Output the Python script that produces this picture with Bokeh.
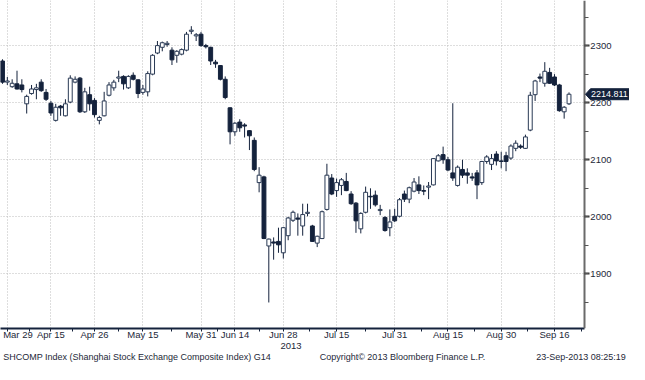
import pandas as pd
from bokeh.plotting import figure
from bokeh.models import (ColumnDataSource, FixedTicker, SingleIntervalTicker,
                          Range1d, Label, LinearAxis, PolyAnnotation, BoxAnnotation)
from bokeh.embed import file_html
from bokeh.resources import INLINE

# ---------------- data ----------------
start_date = "2013-03-28"
end_date = "2013-09-23"
holidays = ["2013-04-04", "2013-04-05", "2013-04-29", "2013-04-30", "2013-05-01",
            "2013-06-10", "2013-06-11", "2013-06-12", "2013-09-19", "2013-09-20"]

opens = [2273, 2236, 2228, 2233, 2231, 2198, 2216, 2223, 2236, 2218,
         2199, 2169, 2194, 2177, 2201, 2236, 2243, 2184, 2214, 2204,
         2169, 2177, 2213, 2226, 2243, 2246, 2226, 2248, 2240, 2218,
         2219, 2250, 2287, 2297, 2302, 2292, 2283, 2285, 2292, 2325,
         2317, 2320, 2300, 2297, 2271, 2265, 2241, 2191, 2149, 2166,
         2161, 2151, 2134, 2060, 2070, 1949, 1956, 1957, 1937, 1967,
         1994, 1998, 1984, 2006, 1984, 1954, 1962, 2013, 2068, 2046,
         2055, 2062, 2040, 2024, 1979, 2008, 2036, 2038, 2011, 1999,
         1981, 2001, 2001, 2040, 2031, 2045, 2056, 2046, 2052, 2056,
         2098, 2109, 2100, 2077, 2055, 2083, 2077, 2070, 2077, 2060,
         2097, 2092, 2110, 2098, 2107, 2103, 2120, 2124, 2120, 2152,
         2214, 2245, 2234, 2253, 2245, 2231, 2184, 2198]
highs = [2276, 2245, 2241, 2256, 2241, 2214, 2231, 2233, 2241, 2224,
         2203, 2198, 2196, 2206, 2248, 2246, 2245, 2226, 2228, 2208,
         2177, 2219, 2236, 2240, 2256, 2248, 2248, 2253, 2241, 2231,
         2255, 2285, 2308, 2307, 2308, 2297, 2292, 2295, 2324, 2334,
         2322, 2324, 2303, 2298, 2275, 2266, 2246, 2192, 2166, 2171,
         2164, 2152, 2139, 2087, 2072, 1962, 1964, 1981, 1982, 2000,
         2011, 2006, 2023, 2023, 1986, 1967, 2011, 2093, 2075, 2067,
         2068, 2077, 2045, 2026, 2008, 2053, 2050, 2046, 2021, 2001,
         2013, 2014, 2033, 2046, 2053, 2068, 2071, 2055, 2061, 2103,
         2110, 2123, 2105, 2199, 2090, 2100, 2085, 2077, 2082, 2098,
         2108, 2110, 2115, 2114, 2114, 2127, 2134, 2127, 2144, 2219,
         2240, 2251, 2271, 2261, 2250, 2233, 2194, 2218]
lows = [2233, 2231, 2226, 2223, 2218, 2181, 2214, 2206, 2219, 2203,
        2177, 2167, 2177, 2176, 2199, 2234, 2182, 2182, 2186, 2174,
        2162, 2176, 2211, 2221, 2236, 2223, 2224, 2239, 2208, 2214,
        2211, 2248, 2285, 2290, 2298, 2266, 2270, 2283, 2290, 2320,
        2308, 2298, 2295, 2266, 2261, 2239, 2206, 2127, 2142, 2149,
        2139, 2117, 2080, 2043, 1961, 1850, 1925, 1937, 1927, 1959,
        1991, 1967, 1967, 2001, 1956, 1947, 1961, 2011, 2038, 2035,
        2038, 2045, 2021, 1972, 1971, 2006, 2014, 2018, 2003, 1974,
        1966, 1991, 1999, 2026, 2024, 2043, 2040, 2038, 2031, 2055,
        2097, 2093, 2080, 2063, 2053, 2068, 2058, 2063, 2031, 2056,
        2093, 2082, 2090, 2085, 2080, 2100, 2115, 2119, 2119, 2150,
        2203, 2236, 2228, 2233, 2229, 2184, 2172, 2196]
closes = [2236, 2238, 2234, 2224, 2223, 2211, 2224, 2226, 2221, 2206,
          2182, 2192, 2191, 2198, 2243, 2241, 2184, 2219, 2198, 2179,
          2174, 2203, 2231, 2236, 2245, 2233, 2246, 2241, 2216, 2224,
          2251, 2283, 2300, 2305, 2304, 2275, 2290, 2293, 2320, 2327,
          2319, 2300, 2298, 2273, 2268, 2241, 2209, 2149, 2164, 2156,
          2159, 2142, 2083, 2073, 1962, 1961, 1954, 1951, 1981, 1998,
          2008, 1996, 2004, 2008, 1957, 1966, 2009, 2073, 2040, 2060,
          2065, 2046, 2023, 1993, 2006, 2043, 2035, 2021, 2013, 1976,
          1991, 1993, 2030, 2031, 2051, 2061, 2046, 2045, 2054, 2102,
          2107, 2100, 2082, 2068, 2087, 2073, 2073, 2068, 2056, 2097,
          2105, 2102, 2098, 2097, 2097, 2124, 2129, 2122, 2140, 2213,
          2238, 2243, 2255, 2234, 2231, 2186, 2192, 2214.811]

tick_dates = ["2013-03-29", "2013-04-15", "2013-04-26", "2013-05-15", "2013-05-31",
              "2013-06-14", "2013-06-28", "2013-07-15", "2013-07-31", "2013-08-15",
              "2013-08-30", "2013-09-16"]
tick_labels = ["Mar 29", "Apr 15", "Apr 26", "May 15", "May 31", "Jun 14", "Jun 28",
               "Jul 15", "Jul 31", "Aug 15", "Aug 30", "Sep 16"]
year_label = "2013"
last_price_text = "2214.811"
footer_texts = ["SHCOMP Index (Shanghai Stock Exchange Composite Index) G14",
                "Copyright\u00a9 2013 Bloomberg Finance L.P.",
                "23-Sep-2013 08:25:19"]

# ---------------- build ----------------
dates = pd.bdate_range(start_date, end_date)
dates = dates[~dates.isin(pd.to_datetime(holidays))]
pos = {d.strftime("%Y-%m-%d"): i for i, d in enumerate(dates)}
idx = list(range(len(opens)))

NAVY = "#14223c"
TEXT = "#1d2838"
FONT = "Liberation Sans"
FS = "9.5px"

up = [c >= o for o, c in zip(opens, closes)]
src = ColumnDataSource(dict(
    x=idx, h=highs, l=lows,
    top=[max(o, c) for o, c in zip(opens, closes)],
    bottom=[min(o, c) for o, c in zip(opens, closes)],
    fill=["#ffffff" if u else NAVY for u in up],
    line=["#2a3a55" if u else NAVY for u in up],
))

W, H = 629, 364
BB = 36
PW, FH = 584, H - BB          # price area width (px) and frame height
X0, XA = -0.41, 120.2         # data x at left edge and at the price axis
Y0, Y1 = 1804.4, 2379.0
XPX = (XA - X0) / PW          # data units per pixel
X1 = X0 + W * XPX             # frame covers the full width; axis sits at XA


def px_x(px):
    return X0 + px * XPX


def px_y(py):
    return Y1 - py * (Y1 - Y0) / FH


p = figure(width=W, height=H, x_range=Range1d(X0, X1), y_range=Range1d(Y0, Y1),
           y_axis_location="left", output_backend="svg", toolbar_location=None,
           min_border_left=0, min_border_top=0, min_border_right=0, min_border_bottom=BB)
p.outline_line_color = None
p.background_fill_color = "white"
p.border_fill_color = "white"

p.segment(x0="x", y0="l", x1="x", y1="h", source=src, line_color=NAVY, line_width=1)
p.vbar(x="x", width=0.8, top="top", bottom="bottom", source=src,
       fill_color="fill", line_color="line", line_width=1)

# x axis (dates)
major = [pos[d] for d in tick_dates]
minor = [(a + b) / 2 for a, b in zip(major[:-1], major[1:])] + [major[-1] + 5.5]
xa = p.xaxis[0]
xa.ticker = FixedTicker(ticks=major, minor_ticks=minor)
overrides = {m: lab for m, lab in zip(major, tick_labels)}
overrides[major[0]] = "\u00a0" + tick_labels[0]
xa.major_label_overrides = overrides
xa.bounds = (X0, XA)
xa.axis_line_color = NAVY
xa.axis_line_width = 2
xa.major_tick_line_color = NAVY
xa.minor_tick_line_color = NAVY
xa.major_tick_in = 0
xa.major_tick_out = 3
xa.minor_tick_in = 0
xa.minor_tick_out = 3
xa.major_label_standoff = -3
xa.major_label_text_font = FONT
xa.major_label_text_font_size = FS
xa.major_label_text_color = TEXT


def text_row(ticks, texts, size):
    return LinearAxis(ticker=FixedTicker(ticks=ticks, minor_ticks=[]),
                      major_label_overrides={t: s for t, s in zip(ticks, texts)},
                      axis_line_color=None, major_tick_line_color=None,
                      minor_tick_line_color=None, major_tick_out=0, major_tick_in=0,
                      major_label_standoff=0, major_label_text_font=FONT,
                      major_label_text_font_size=size, major_label_text_color=TEXT)


year_tick = [round(px_x(290.5), 3)]
p.add_layout(text_row(year_tick, [year_label], FS), "below")
foot_ticks = [round(px_x(v), 3) for v in (136.5, 402.0, 580.5)]
p.add_layout(text_row(foot_ticks, footer_texts, "9px"), "below")

# price axis: drawn at XA, labels to its right
ya = p.yaxis[0]
ya.ticker = SingleIntervalTicker(interval=100, num_minor_ticks=2)
ya.fixed_location = XA
ya.axis_line_color = "#6a6a6a"
ya.axis_line_width = 2
ya.major_tick_line_color = "#333333"
ya.major_tick_line_width = 2
ya.major_tick_out = 0
ya.major_tick_in = 5
ya.minor_tick_line_color = "#555555"
ya.minor_tick_out = 0
ya.minor_tick_in = 4
ya.major_label_standoff = -27
ya.major_label_text_font = FONT
ya.major_label_text_font_size = FS
ya.major_label_text_color = TEXT

p.grid.grid_line_color = "#bdbdbd"
p.grid.grid_line_dash = "1 2"
p.grid.grid_line_width = 1

# keep the grid to the left of the price axis
p.add_layout(BoxAnnotation(left=XA, right=X1, fill_color="white", fill_alpha=1.0,
                           line_color=None, level="underlay"))

# last price marker
last = closes[-1]
ly = FH - (last - Y0) / (Y1 - Y0) * FH
tag = PolyAnnotation(xs=[px_x(585), px_x(590), px_x(629.5), px_x(629.5), px_x(590)],
                     ys=[last, px_y(ly - 5.5), px_y(ly - 5.5), px_y(ly + 5.5), px_y(ly + 5.5)],
                     fill_color=NAVY, fill_alpha=1.0, line_color=NAVY, line_alpha=1.0,
                     level="overlay")
p.add_layout(tag)
p.add_layout(Label(x=px_x(590.5), y=last, text=last_price_text, text_align="left",
                   text_baseline="middle", text_font=FONT, text_font_size="9px",
                   text_color="white", level="overlay"))

open("out.html", "w").write(file_html(p, INLINE))
